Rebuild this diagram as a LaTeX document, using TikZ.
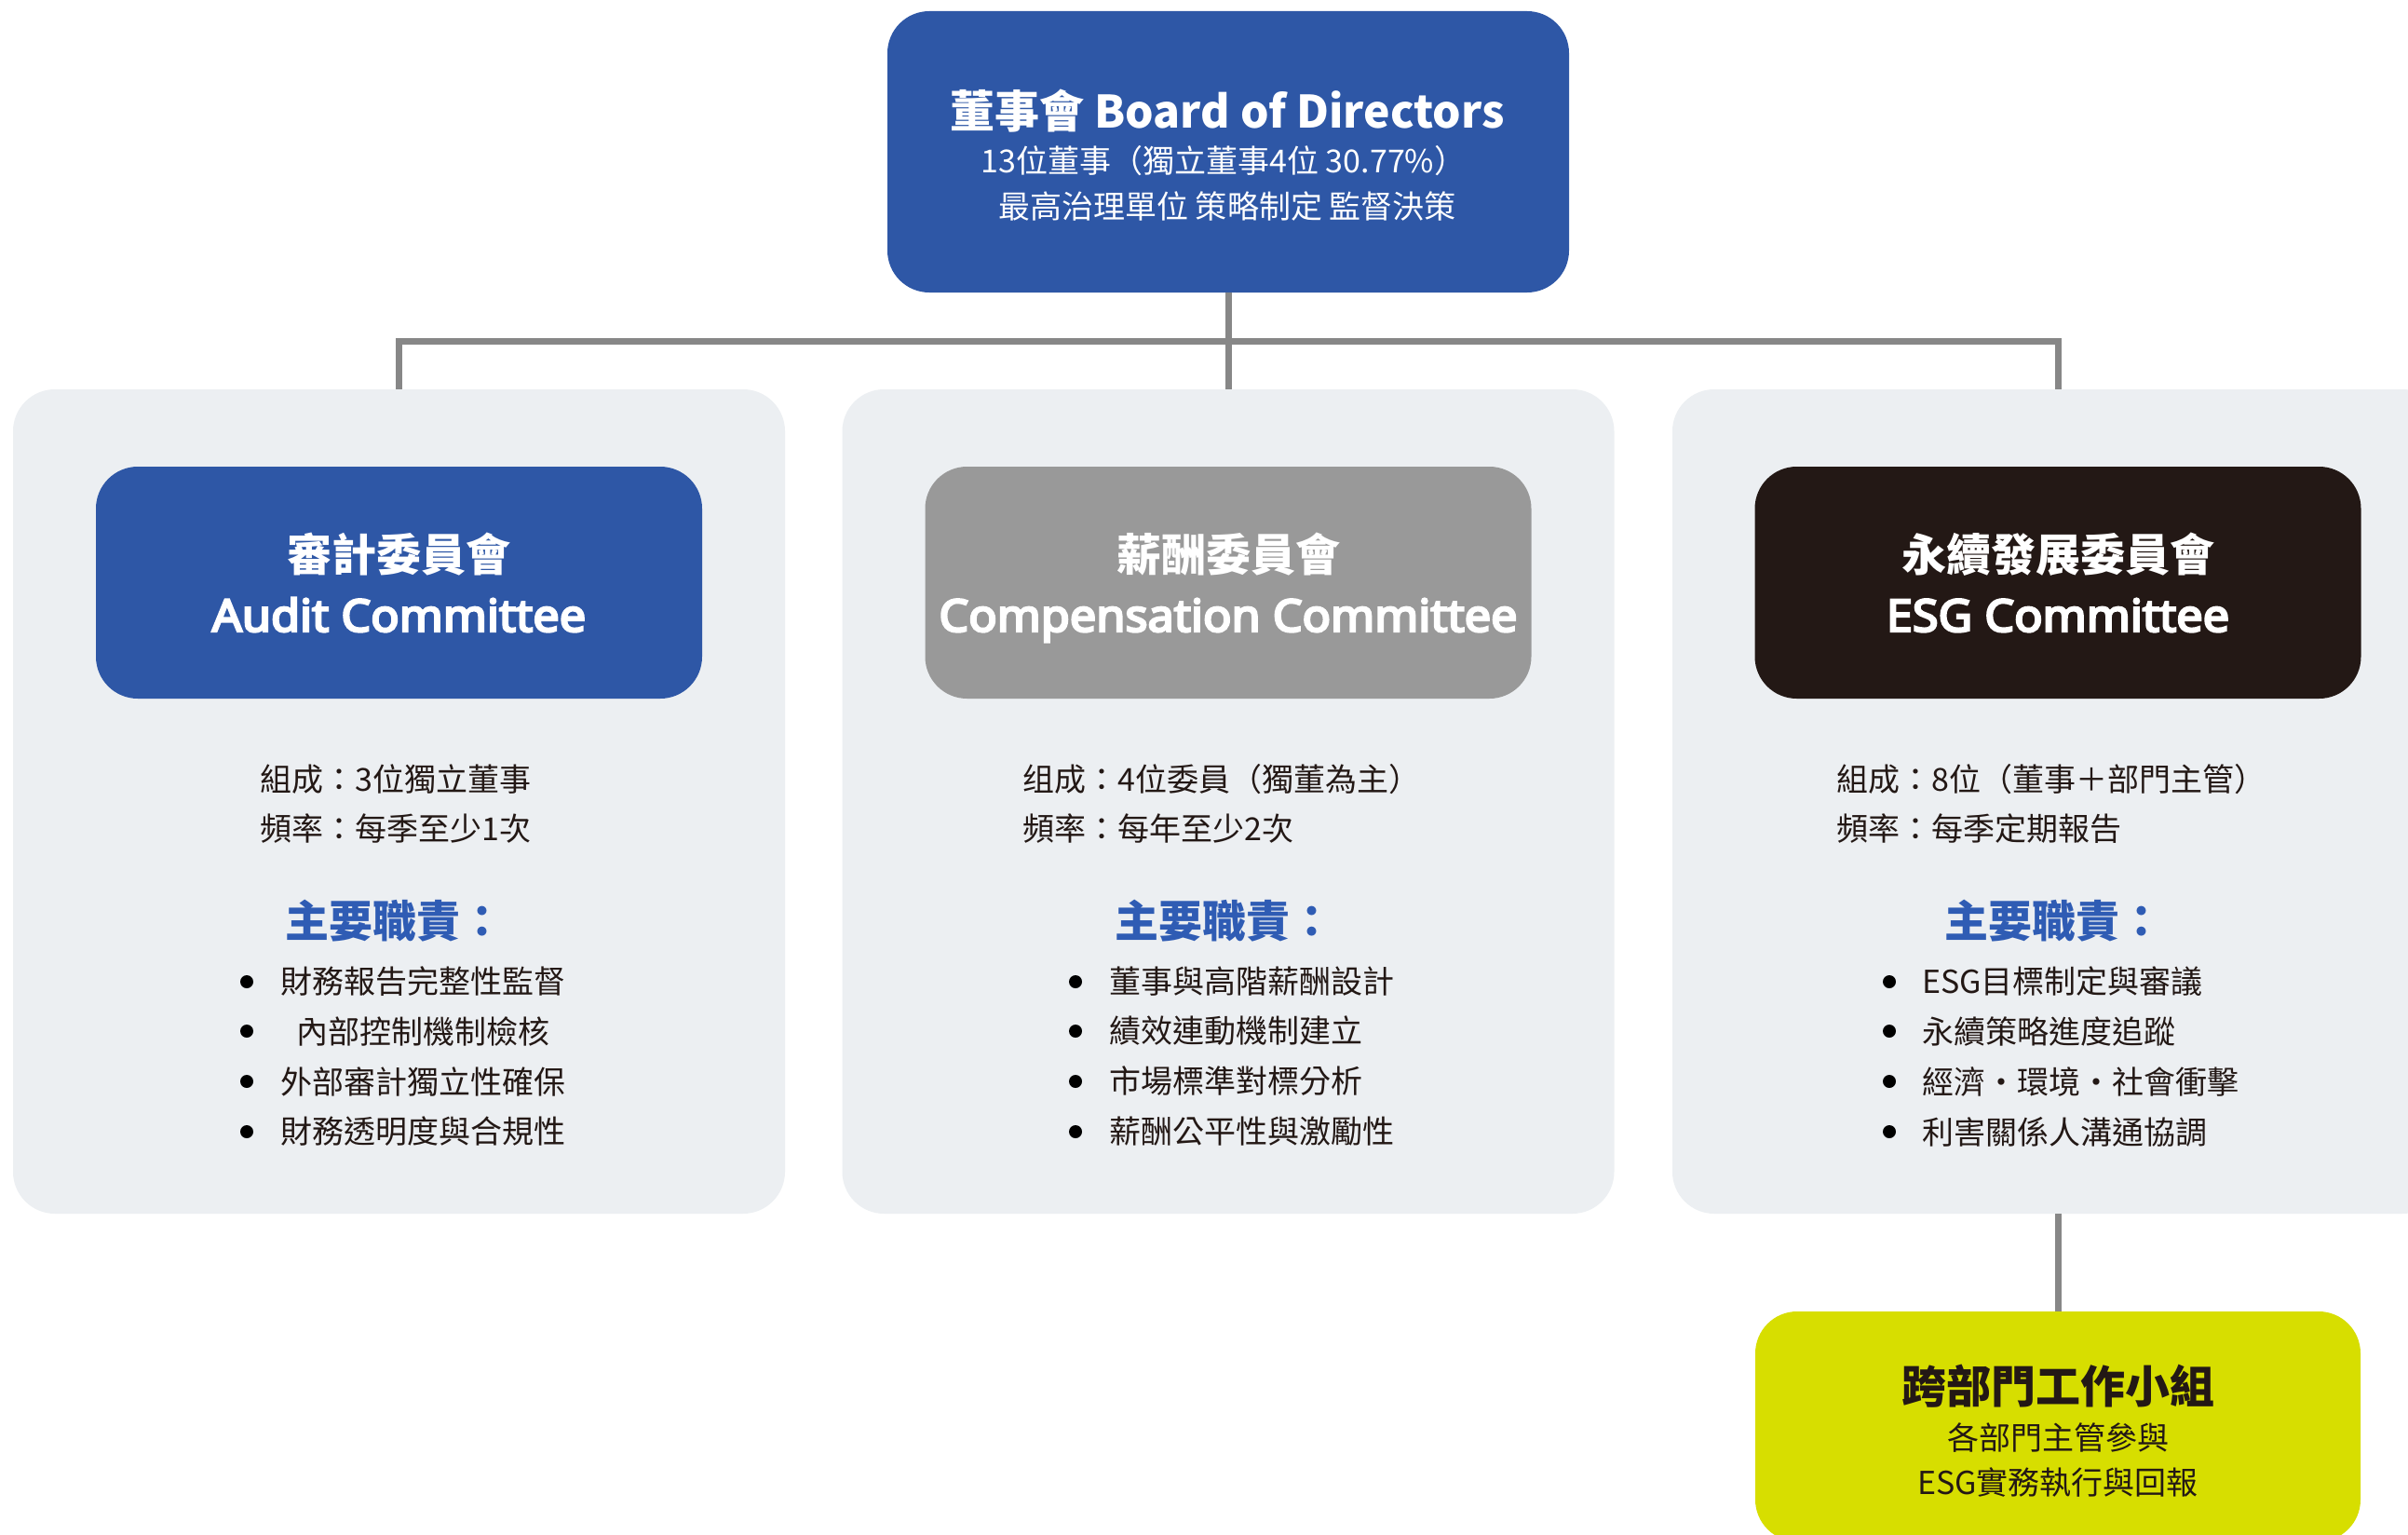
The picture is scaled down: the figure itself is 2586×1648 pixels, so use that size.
\documentclass[tikz,border=0pt]{standalone}
\usepackage{fontspec}
\setmainfont{Noto Sans CJK TC}
\newfontfamily\latinb{Noto Sans}[FakeBold=5, FakeStretch=1.05]
\definecolor{boardblue}{RGB}{46,87,166}
\definecolor{titleblue}{RGB}{47,92,180}
\definecolor{panelc}{RGB}{236,239,242}
\definecolor{grayc}{RGB}{153,153,153}
\definecolor{esgc}{RGB}{35,24,21}
\definecolor{wgc}{RGB}{215,222,0}
\definecolor{connc}{RGB}{135,135,135}
\definecolor{darkc}{RGB}{35,24,21}
\tikzset{
  panel/.style={fill=panelc, rounded corners=45pt, minimum width=829pt, minimum height=885pt, inner sep=0pt},
  cbox/.style={rounded corners=45pt, minimum width=651pt, minimum height=249pt, inner sep=0pt},
  conn/.style={draw=connc, line width=7pt},
  body/.style={anchor=west, inner sep=0pt, text=darkc, font=\fontsize{34}{40}\selectfont},
  duty/.style={anchor=west, inner sep=0pt, text=titleblue, font=\fontsize{47}{52}\selectfont\bfseries},
  ctitle/.style={inner sep=0pt, text=white, font=\fontsize{48}{56}\selectfont\bfseries},
  etitle/.style={anchor=base, inner sep=0pt, text=white, font=\latinb\fontsize{48}{56}\selectfont},
  bul/.style={fill=black}
}
\begin{document}
\begin{tikzpicture}[x=1pt,y=-1pt]
\useasboundingbox (0,0) rectangle (2586,1648);
\clip (0,0) rectangle (2586,1648);
\fill[white] (0,0) rectangle (2586,1648);

% panels
\node[panel] (p1) at (428.5,860.5) {};
\node[panel] (p2) at (1319,860.5) {};
\node[panel] (p3) at (2210.5,860.5) {};

% board
\node[cbox, fill=boardblue, minimum width=732pt, minimum height=302pt] (board) at (1319,163) {};
\node[inner sep=0pt, text=white, font=\fontsize{48}{56}\selectfont\bfseries] (bt) at (1318,119) {董事會 Board of Directors};
\node[inner sep=0pt, text=white, font=\fontsize{34}{40}\selectfont] (bs1) at (1314,173) {13位董事（獨立董事4位 30.77\%）};
\node[inner sep=0pt, text=white, font=\fontsize{34}{40}\selectfont] (bs2) at (1318,221) {最高治理單位 策略制定 監督決策};

% connectors
\coordinate (hl) at (1319,366);
\draw[conn] (board.south) -- (p2.north);
\draw[conn] (p1.north) -- (p1.north |- hl) -- (p3.north |- hl) -- (p3.north);

% committee boxes
\node[cbox, fill=boardblue] (c1) at (428.5,625.5) {};
\node[cbox, fill=grayc] (c2) at (1319,625.5) {};
\node[cbox, fill=esgc] (c3) at (2210,625.5) {};
\node[ctitle] (c1a) at (428.5,595) {審計委員會};
\node[etitle] (c1b) at (428.5,678) {Audit Committee};
\node[ctitle] (c2a) at (1319,595) {薪酬委員會};
\node[etitle] (c2b) at (1319,678) {Compensation Committee};
\node[ctitle] (c3a) at (2210,595) {永續發展委員會};
\node[etitle] (c3b) at (2210,678) {ESG Committee};

% panel 1 text
\node[body] (a1) at (279,837) {組成：3位獨立董事};
\node[body] (a2) at (279,890) {頻率：每季至少1次};
\node[duty] (ad) at (306,989) {主要職責：};
\node[body] (ai1) at (301,1054) {財務報告完整性監督};
\node[body] (ai2) at (318,1107) {內部控制機制檢核};
\node[body] (ai3) at (301,1161) {外部審計獨立性確保};
\node[body] (ai4) at (301,1215) {財務透明度與合規性};
\foreach \yy in {1054,1107,1161,1215} \fill[bul] (265,\yy) circle (7);

% panel 2 text
\node[body] (b1) at (1098,837) {组成：4位委員（獨董為主）};
\node[body] (b2) at (1098,890) {頻率：每年至少2次};
\node[duty] (bd) at (1197,989) {主要職責：};
\node[body] (bi1) at (1191,1054) {董事與高階薪酬設計};
\node[body] (bi2) at (1191,1107) {績效連動機制建立};
\node[body] (bi3) at (1191,1161) {市場標準對標分析};
\node[body] (bi4) at (1191,1215) {薪酬公平性與激勵性};
\foreach \yy in {1054,1107,1161,1215} \fill[bul] (1155,\yy) circle (7);

% panel 3 text
\node[body] (e1) at (1972,837) {組成：8位（董事＋部門主管）};
\node[body] (e2) at (1972,890) {頻率：每季定期報告};
\node[duty] (ed) at (2088,989) {主要職責：};
\node[body] (ei1) at (2064,1054) {ESG目標制定與審議};
\node[body] (ei2) at (2064,1107) {永續策略進度追蹤};
\node[body] (ei3) at (2064,1161) {經濟・環境・社會衝擊};
\node[body] (ei4) at (2064,1215) {利害關係人溝通協調};
\foreach \yy in {1054,1107,1161,1215} \fill[bul] (2029,\yy) circle (7);

% working group
\node[cbox, fill=wgc, minimum width=650pt, minimum height=247pt] (wg) at (2210,1531.5) {};
\draw[conn] (wg.north |- p3.south) -- (wg.north);
\node[inner sep=0pt, text=darkc, font=\fontsize{48}{56}\selectfont\bfseries] (wt) at (2210,1488) {跨部門工作小組};
\node[inner sep=0pt, text=darkc, font=\fontsize{34}{40}\selectfont] (ws1) at (2210,1543) {各部門主管參與};
\node[inner sep=0pt, text=darkc, font=\fontsize{34}{40}\selectfont] (ws2) at (2210,1592) {ESG實務執行與回報};
\end{tikzpicture}
\end{document}
